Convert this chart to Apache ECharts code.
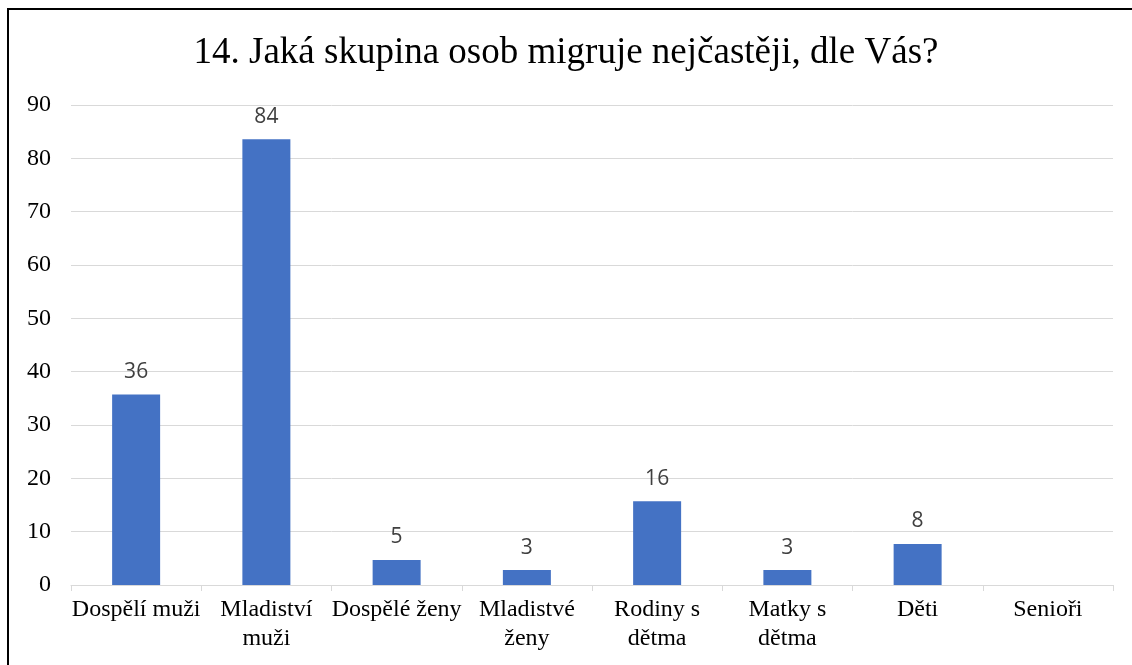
<!DOCTYPE html>
<html>
<head>
<meta charset="utf-8">
<script src="https://cdn.jsdelivr.net/npm/echarts@6/dist/echarts.min.js"></script>
<style>
  html, body { margin: 0; padding: 0; background: #ffffff; }
  #chart { width: 1132px; height: 665px; }
</style>
</head>
<body>
<div id="chart"></div>
<script>
// kategorie a hodnoty
var categories = ["Dospělí muži", "Mladiství\nmuži", "Dospělé ženy", "Mladistvé\nženy", "Rodiny s\ndětma", "Matky s\ndětma", "Děti", "Senioři"];
var values = [35.7, 83.6, 4.7, 2.8, 15.7, 2.8, 7.7, 0];
var yTicks = { min: 0, max: 90, interval: 10 };

var myChart = echarts.init(document.getElementById("chart"));

var option = {
  animation: false,
  title: {
    text: "14. Jaká skupina osob migruje nejčastěji, dle Vás?",
    left: "center",
    top: 30,
    textStyle: {
      fontFamily: "Liberation Serif",
      fontSize: 37,
      fontWeight: "normal",
      color: "#000000"
    }
  },
  graphic: [{
    type: "rect",
    shape: { x: 8, y: 9, width: 1200, height: 700 },
    style: { fill: "none", stroke: "#000000", lineWidth: 2 },
    silent: true
  }],
  grid: {
    left: 71,
    right: 19,
    top: 105,
    bottom: 80
  },
  xAxis: {
    type: "category",
    data: categories,
    axisLine: { lineStyle: { color: "#d9d9d9", width: 1 } },
    axisTick: { show: true, length: 6, lineStyle: { color: "#d9d9d9" } },
    axisLabel: {
      fontFamily: "Liberation Serif",
      fontSize: 24,
      color: "#000000",
      margin: 10,
      lineHeight: 29,
      interval: 0
    }
  },
  yAxis: {
    type: "value",
    min: yTicks.min,
    max: yTicks.max,
    interval: yTicks.interval,
    axisLine: { show: false },
    axisTick: { show: false },
    splitLine: { lineStyle: { color: "#d9d9d9", width: 1 } },
    axisLabel: {
      fontFamily: "Liberation Serif",
      fontSize: 24,
      color: "#000000",
      margin: 20
    }
  },
  series: [{
    type: "bar",
    data: values,
    barWidth: 48,
    itemStyle: { color: "#4472c4" },
    label: {
      show: true,
      position: "top",
      distance: 12,
      fontFamily: "Open Sans",
      fontSize: 21,
      color: "#404040",
      formatter: function (p) {
        return p.value > 0 ? Math.round(p.value) : "";
      }
    }
  }]
};

myChart.setOption(option);
</script>
</body>
</html>
